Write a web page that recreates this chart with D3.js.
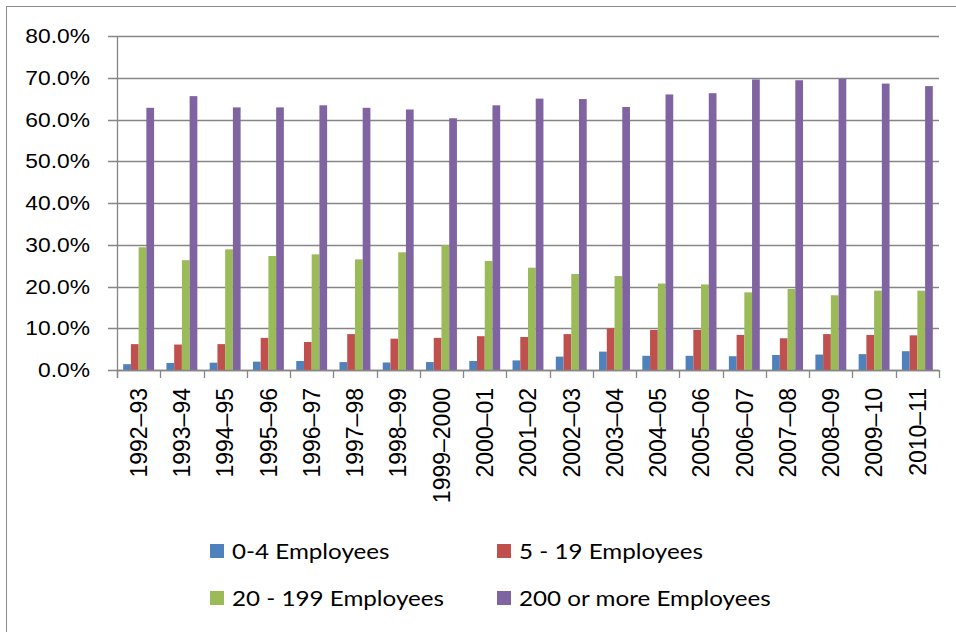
<!DOCTYPE html>
<html>
<head>
<meta charset="utf-8">
<script src="https://cdn.jsdelivr.net/npm/d3@7/dist/d3.min.js"></script>
<style>
  body { margin: 0; background: #fff; }
  svg { display: block; }
</style>
</head>
<body>
<div id="container"></div>
<script>
var years = ["1992–93","1993–94","1994–95","1995–96","1996–97","1997–98","1998–99","1999–2000",
  "2000–01","2001–02","2002–03","2003–04","2004–05","2005–06","2006–07","2007–08","2008–09","2009–10","2010–11"];
var seriesNames = ["0-4 Employees", "5 - 19 Employees", "20 - 199 Employees", "200 or more Employees"];
var emp0to4 = [1.4,1.7,1.75,2.0,2.15,1.9,1.8,1.9,2.15,2.3,3.2,4.4,3.4,3.4,3.3,3.6,3.7,3.8,4.5];
var emp5to19 = [6.2,6.1,6.2,7.7,6.7,8.6,7.5,7.7,8.1,7.9,8.6,10.0,9.6,9.6,8.4,7.6,8.6,8.4,8.3];
var emp20to199 = [29.4,26.3,28.9,27.3,27.7,26.5,28.2,29.9,26.1,24.5,23.0,22.5,20.7,20.5,18.6,19.4,17.9,19.0,19.0];
var emp200plus = [62.8,65.6,62.9,62.9,63.4,62.8,62.4,60.3,63.4,65.0,64.9,63.0,66.0,66.3,69.6,69.4,69.7,68.6,68.0];
var yTicks = [0,10,20,30,40,50,60,70,80];

var colors = ["#4F81BD", "#C0504D", "#9BBB59", "#8064A2"];
var allSeries = [emp0to4, emp5to19, emp20to199, emp200plus];

var W = 956, H = 632;
var plotL = 117, plotR = 939, plotT = 36, plotB = 370;

var svg = d3.select('#container').append('svg')
  .attr('width', W).attr('height', H);

// outer chart border (right / bottom edge are cut off in the picture)
svg.append('rect')
  .attr('x', 6.5).attr('y', 6.5)
  .attr('width', 960).attr('height', 640)
  .attr('fill', 'none').attr('stroke', '#8c8c8c').attr('stroke-width', 1);

var x0 = d3.scaleBand().domain(years).range([plotL, plotR]).padding(0);
var x1 = d3.scaleBand().domain(d3.range(4)).range([0, x0.bandwidth()])
  .paddingInner(0).paddingOuter(0.8);
var y = d3.scaleLinear().domain([0, 80]).range([plotB, plotT]);

function stretchText(sel, k) {
  sel.each(function() {
    var w = this.getComputedTextLength();
    d3.select(this).attr('textLength', w * k).attr('lengthAdjust', 'spacingAndGlyphs');
  });
}

// gridlines
svg.append('g').selectAll('line')
  .data(yTicks)
  .enter().append('line')
  .attr('x1', plotL - 9).attr('x2', plotR)
  .attr('y1', function(d) { return Math.round(y(d)) + 0.5; })
  .attr('y2', function(d) { return Math.round(y(d)) + 0.5; })
  .attr('stroke', '#868686').attr('stroke-width', 1.3);

// y labels
svg.append('g').selectAll('text')
  .data(yTicks)
  .enter().append('text')
  .attr('x', 90)
  .attr('y', function(d) { return y(d); })
  .attr('dy', '0.36em')
  .attr('text-anchor', 'end')
  .style('font-family', '"Liberation Sans", Arial, sans-serif')
  .style('font-size', '20px')
  .attr('fill', '#000')
  .text(function(d) { return d.toFixed(1) + '%'; })
  .call(stretchText, 1.14);

// bars
var groups = svg.append('g').selectAll('g.cat')
  .data(years)
  .enter().append('g')
  .classed('cat', true)
  .attr('transform', function(d) { return 'translate(' + x0(d) + ',0)'; });

groups.selectAll('rect')
  .data(function(d, i) { return allSeries.map(function(s, k) { return {k: k, v: s[i]}; }); })
  .enter().append('rect')
  .attr('x', function(d) { return x1(d.k); })
  .attr('width', x1.bandwidth())
  .attr('y', function(d) { return y(d.v); })
  .attr('height', function(d) { return plotB - y(d.v); })
  .attr('fill', function(d) { return colors[d.k]; });

// axis lines
svg.append('line')
  .attr('x1', plotL + 0.5).attr('x2', plotL + 0.5)
  .attr('y1', plotT).attr('y2', plotB + 8)
  .attr('stroke', '#868686').attr('stroke-width', 1.3);
svg.append('line')
  .attr('x1', plotL).attr('x2', plotR)
  .attr('y1', plotB + 0.5).attr('y2', plotB + 0.5)
  .attr('stroke', '#868686').attr('stroke-width', 1.3);

// x ticks at category boundaries
var bounds = years.map(function(d) { return x0(d); }).concat([plotR]);
svg.append('g').selectAll('line')
  .data(bounds)
  .enter().append('line')
  .attr('x1', function(d) { return Math.round(d) + 0.5; })
  .attr('x2', function(d) { return Math.round(d) + 0.5; })
  .attr('y1', plotB).attr('y2', plotB + 8)
  .attr('stroke', '#868686').attr('stroke-width', 1.3);

// x labels
svg.append('g').selectAll('text')
  .data(years)
  .enter().append('text')
  .attr('transform', function(d) {
    return 'translate(' + (x0(d) + x0.bandwidth() / 2) + ',' + 388 + ') rotate(-90)';
  })
  .attr('dy', '0.36em')
  .attr('text-anchor', 'end')
  .style('font-family', '"Liberation Sans", Arial, sans-serif')
  .style('font-size', '23px')
  .attr('fill', '#000')
  .text(function(d) { return d; });

// legend
var legendPos = [[210, 551], [497, 551], [210, 598], [497, 598]];
var legend = svg.append('g').selectAll('g')
  .data(seriesNames)
  .enter().append('g')
  .attr('transform', function(d, i) { return 'translate(' + legendPos[i][0] + ',' + legendPos[i][1] + ')'; });

legend.append('rect')
  .attr('x', 0).attr('y', -7)
  .attr('width', 14).attr('height', 14)
  .attr('fill', function(d, i) { return colors[i]; });

legend.append('text')
  .attr('x', 22)
  .attr('dy', '0.36em')
  .style('font-family', 'Lato, "Open Sans", sans-serif')
  .style('font-size', '22px')
  .attr('fill', '#000')
  .text(function(d) { return d; })
  .call(stretchText, 1.1);
</script>
</body>
</html>
